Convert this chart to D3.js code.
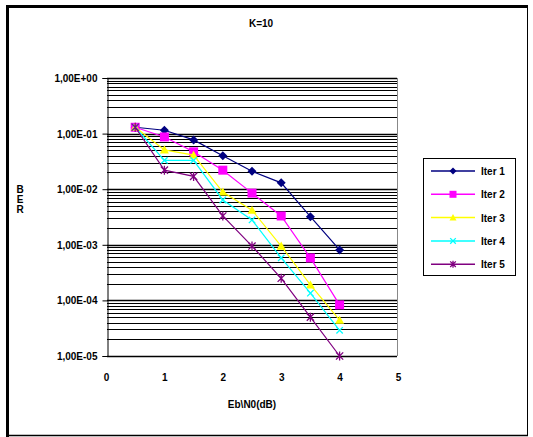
<!DOCTYPE html>
<html>
<head>
<meta charset="utf-8">
<script src="https://cdn.jsdelivr.net/npm/d3@7"></script>
<style>
  body { margin: 0; background: #fff; }
  text { font-family: "Liberation Sans", Arial, sans-serif; font-weight: bold; fill: #000; }
</style>
</head>
<body>
<svg id="chart" width="533" height="437"></svg>
<script>
// Eb/N0 values (dB)
const ebno = [0.5, 1, 1.5, 2, 2.5, 3, 3.5, 4];
const seriesNames = ["Iter 1", "Iter 2", "Iter 3", "Iter 4", "Iter 5"];
const iter1 = [0.13, 0.115, 0.077, 0.04, 0.021, 0.013, 0.0032, 0.00081];
const iter2 = [0.13, 0.087, 0.047, 0.022, 0.0085, 0.0033, 0.00058, 0.000083];
const iter3 = [0.13, 0.051, 0.041, 0.0089, 0.0042, 0.00095, 0.00019, 0.000044];
const iter4 = [0.13, 0.033, 0.033, 0.0064, 0.0028, 0.00058, 0.000135, 0.000029];
const iter5 = [0.13, 0.022, 0.017, 0.0033, 0.00095, 0.00025, 0.00005, 0.00001];
const colors = ["#000080", "#ff00ff", "#ffff00", "#00ffff", "#800080"];
const markers = ["diamond", "square", "triangle", "x", "star"];
const xTicks = [0, 1, 2, 3, 4, 5];
const yTickLabels = ["1,00E+00", "1,00E-01", "1,00E-02", "1,00E-03", "1,00E-04", "1,00E-05"];

const allSeries = [iter1, iter2, iter3, iter4, iter5];

const plot = { left: 107, right: 397, top: 78, bottom: 356 };
const svg = d3.select("#chart");

// outer frame
svg.append("line").attr("x1", 7.5).attr("x2", 7.5).attr("y1", 5).attr("y2", 437)
    .attr("stroke", "#000").attr("stroke-width", 3);
svg.append("line").attr("x1", 6).attr("x2", 528).attr("y1", 6.5).attr("y2", 6.5)
    .attr("stroke", "#000").attr("stroke-width", 3);
svg.append("line").attr("x1", 6).attr("x2", 528).attr("y1", 435.5).attr("y2", 435.5)
    .attr("stroke", "#000").attr("stroke-width", 1.5);
svg.append("line").attr("x1", 527.5).attr("x2", 527.5).attr("y1", 5).attr("y2", 436)
    .attr("stroke", "#000").attr("stroke-width", 1);

const x = d3.scaleLinear().domain([0, 5]).range([plot.left - 1, plot.right + 1]);
const y = d3.scaleLog().domain([1e-5, 1]).range([plot.bottom, plot.top]);

// gridlines, every log tick is drawn
const gridVals = y.ticks();
svg.append("g").selectAll("line")
    .data(gridVals).enter().append("line")
    .attr("x1", plot.left).attr("x2", plot.right)
    .attr("y1", d => Math.round(y(d)) + 0.5).attr("y2", d => Math.round(y(d)) + 0.5)
    .attr("stroke", "#000")
    .attr("stroke-width", d => Math.abs(Math.log10(d) - Math.round(Math.log10(d))) < 1e-6 ? 1.6 : 1);

// plot frame
svg.append("line").attr("x1", plot.right + 0.5).attr("x2", plot.right + 0.5)
    .attr("y1", plot.top).attr("y2", plot.bottom).attr("stroke", "#888");

// y axis
const yAxis = d3.axisLeft(y)
    .tickValues(d3.range(0, -6, -1).map(e => Math.pow(10, e)))
    .tickFormat((d, i) => yTickLabels[i])
    .tickSize(5).tickPadding(5);
const gy = svg.append("g").attr("transform", `translate(${plot.left + 0.5},0)`).call(yAxis);
gy.selectAll("text").style("font-size", "10px").style("font-family", "'Liberation Sans', Arial, sans-serif")
    .style("font-weight", "bold").attr("dy", "0.35em");
gy.select(".domain").attr("stroke", "#000");

// x axis (labels only)
const gx = svg.append("g").attr("transform", `translate(0,${plot.bottom})`)
    .call(d3.axisBottom(x).tickValues(xTicks).tickFormat(d3.format("d")).tickSize(0).tickPadding(18));
gx.select(".domain").remove();
gx.selectAll("text").style("font-size", "10px").style("font-family", "'Liberation Sans', Arial, sans-serif")
    .style("font-weight", "bold");

// titles
svg.append("text").attr("x", 261).attr("y", 27).attr("text-anchor", "middle")
    .style("font-size", "10px").text("K=10");
svg.append("text").attr("x", 252).attr("y", 408).attr("text-anchor", "middle")
    .style("font-size", "10px").text("Eb\\N0(dB)");
const ber = svg.append("text").attr("x", 20).attr("y", 193).attr("text-anchor", "middle")
    .style("font-size", "10px");
["B", "E", "R"].forEach((c, i) => ber.append("tspan").attr("x", 20).attr("dy", i === 0 ? 0 : 10).text(c));

function drawMarker(g, type, color, cx, cy, s) {
    if (type === "diamond") {
        g.append("path").attr("d", `M${cx},${cy - s}L${cx + s},${cy}L${cx},${cy + s}L${cx - s},${cy}Z`).attr("fill", color);
    } else if (type === "square") {
        g.append("rect").attr("x", cx - s).attr("y", cy - s).attr("width", 2 * s).attr("height", 2 * s).attr("fill", color);
    } else if (type === "triangle") {
        g.append("path").attr("d", `M${cx},${cy - s}L${cx + s},${cy + s * 0.8}L${cx - s},${cy + s * 0.8}Z`).attr("fill", color);
    } else if (type === "x") {
        const r = s * 0.8;
        g.append("path").attr("d", `M${cx - r},${cy - r}L${cx + r},${cy + r}M${cx - r},${cy + r}L${cx + r},${cy - r}`)
            .attr("stroke", color).attr("stroke-width", 1.3).attr("fill", "none");
    } else {
        const r = s * 0.8;
        g.append("path").attr("d", `M${cx - r},${cy - r}L${cx + r},${cy + r}M${cx - r},${cy + r}L${cx + r},${cy - r}M${cx},${cy - s}L${cx},${cy + s}`)
            .attr("stroke", color).attr("stroke-width", 1.3).attr("fill", "none");
    }
}

const line = d3.line().x((d, i) => x(ebno[i])).y(d => y(d));
const sizes = [4.5, 4.5, 4.5, 4, 4.5];
allSeries.forEach((vals, k) => {
    const g = svg.append("g");
    g.append("path").datum(vals).attr("d", line).attr("fill", "none")
        .attr("stroke", colors[k]).attr("stroke-width", 1.2);
    vals.forEach((v, i) => drawMarker(g, markers[k], colors[k], x(ebno[i]), y(v), sizes[k]));
});

// legend
const leg = { x: 423, y: 158, w: 92, h: 117 };
svg.append("rect").attr("x", leg.x + 0.5).attr("y", leg.y + 0.5).attr("width", leg.w).attr("height", leg.h)
    .attr("fill", "#fff").attr("stroke", "#000");
seriesNames.forEach((name, k) => {
    const ly = leg.y + 13 + k * 23.3;
    const g = svg.append("g");
    g.append("line").attr("x1", leg.x + 8).attr("x2", leg.x + 52).attr("y1", ly).attr("y2", ly)
        .attr("stroke", colors[k]).attr("stroke-width", 1.5);
    drawMarker(g, markers[k], colors[k], leg.x + 30, ly, 3.5);
    g.append("text").attr("x", leg.x + 58).attr("y", ly + 4).style("font-size", "10px").text(name);
});
</script>
</body>
</html>
